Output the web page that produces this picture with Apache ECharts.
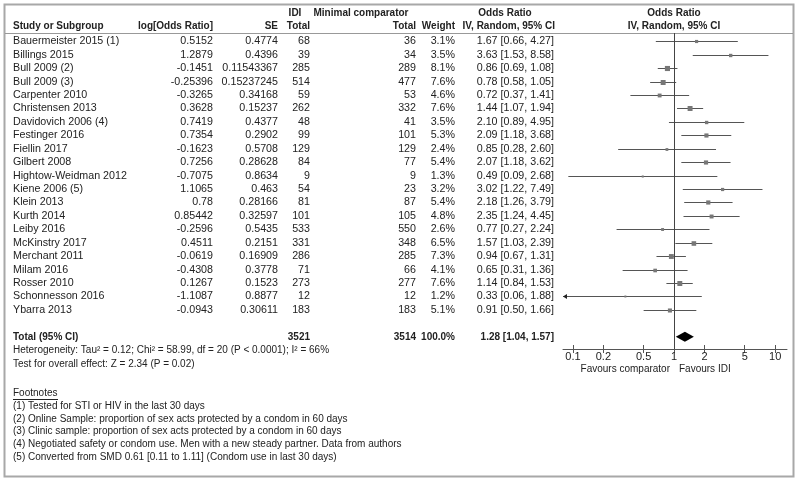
<!DOCTYPE html>
<html><head><meta charset="utf-8">
<script src="https://cdn.jsdelivr.net/npm/echarts@6/dist/echarts.min.js"></script>
<style>html,body{margin:0;padding:0;background:#fff;}#c{width:800px;height:481px;}</style>
</head><body><div id="c"></div>
<script>
const studies = ["Bauermeister 2015 (1)","Billings 2015","Bull 2009 (2)","Bull 2009 (3)","Carpenter 2010","Christensen 2013","Davidovich 2006 (4)","Festinger 2016","Fiellin 2017","Gilbert 2008","Hightow-Weidman 2012","Kiene 2006 (5)","Klein 2013","Kurth 2014","Leiby 2016","McKinstry 2017","Merchant 2011","Milam 2016","Rosser 2010","Schonnesson 2016","Ybarra 2013"];
const logOR = ["0.5152","1.2879","-0.1451","-0.25396","-0.3265","0.3628","0.7419","0.7354","-0.1623","0.7256","-0.7075","1.1065","0.78","0.85442","-0.2596","0.4511","-0.0619","-0.4308","0.1267","-1.1087","-0.0943"];
const seVals = ["0.4774","0.4396","0.11543367","0.15237245","0.34168","0.15237","0.4377","0.2902","0.5708","0.28628","0.8634","0.463","0.28166","0.32597","0.5435","0.2151","0.16909","0.3778","0.1523","0.8877","0.30611"];
const idiTotal = [68,39,285,514,59,262,48,99,129,84,9,54,81,101,533,331,286,71,273,12,183];
const compTotal = [36,34,289,477,53,332,41,101,129,77,9,23,87,105,550,348,285,66,277,12,183];
const weights = [3.1,3.5,8.1,7.6,4.6,7.6,3.5,5.3,2.4,5.4,1.3,3.2,5.4,4.8,2.6,6.5,7.3,4.1,7.6,1.2,5.1];
const orVals = [1.67,3.63,0.86,0.78,0.72,1.44,2.10,2.09,0.85,2.07,0.49,3.02,2.18,2.35,0.77,1.57,0.94,0.65,1.14,0.33,0.91];
const ciLow  = [0.66,1.53,0.69,0.58,0.37,1.07,0.89,1.18,0.28,1.18,0.09,1.22,1.26,1.24,0.27,1.03,0.67,0.31,0.84,0.06,0.50];
const ciHigh = [4.27,8.58,1.08,1.05,1.41,1.94,4.95,3.68,2.60,3.62,2.68,7.49,3.79,4.45,2.24,2.39,1.31,1.36,1.53,1.88,1.66];
const totalRow = {label:"Total (95% CI)", idi:3521, comp:3514, weight:"100.0%", or:1.28, lo:1.04, hi:1.57};
const tickValues = [0.1,0.2,0.5,1,2,5,10];
const footnotes = ["(1) Tested for STI or HIV in the last 30 days","(2) Online Sample: proportion of sex acts protected by a condom in 60 days","(3) Clinic sample: proportion of sex acts protected by a condom in 60 days","(4) Negotiated safety or condom use. Men with a new steady partner. Data from authors","(5) Converted from SMD 0.61 [0.11 to 1.11] (Condom use in last 30 days)"];
const hetText = "Heterogeneity: Tau\u00b2 = 0.12; Chi\u00b2 = 58.99, df = 20 (P < 0.0001); I\u00b2 = 66%";
const effText = "Test for overall effect: Z = 2.34 (P = 0.02)";

const FAM = "'Liberation Sans', Arial, sans-serif";
const FONT = "10.7px " + FAM;
const SFONT = "10px " + FAM;
const BFONT = "bold 10px " + FAM;
const TXT = '#222';
const LINE = '#555';
const TOTAL_IDX = 22;

const chart = echarts.init(document.getElementById('c'), null, {renderer:'canvas'});
const L10 = Math.log10;
const studyData = studies.map((s,i)=>[i, L10(orVals[i]), L10(ciLow[i]), L10(ciHigh[i]), weights[i]]);
const totalData = [[TOTAL_IDX, L10(totalRow.or), L10(totalRow.lo), L10(totalRow.hi)]];

const xMin = -1.0985, xMax = 1.117;
const option = {
  animation:false,
  backgroundColor:'#fff',
  grid:{left:563, width:224, top:33, height:316},
  xAxis:[{
    type:'value', min:xMin, max:xMax, position:'bottom',
    splitLine:{show:false},
    axisLine:{show:true, onZero:false, lineStyle:{color:LINE, width:1}},
    axisTick:{show:true, length:4, inside:false, customValues: tickValues.map(L10), lineStyle:{color:LINE}},
    axisLabel:{show:true, margin:2, customValues: tickValues.map(L10), color:TXT, fontSize:11, fontFamily:FAM,
      formatter:v=>{const t=tickValues.find(t=>Math.abs(L10(t)-v)<1e-6); return t===undefined?'':String(t);}}
  },{
    type:'value', min:xMin, max:xMax, position:'bottom', gridIndex:0,
    splitLine:{show:false},
    axisLine:{show:false, onZero:false},
    axisTick:{show:true, length:4, inside:true, customValues: tickValues.map(L10), lineStyle:{color:LINE}},
    axisLabel:{show:false}
  }],
  yAxis:{type:'value', inverse:true, min:-0.62, max:22.91, show:false},
  series:[{
    type:'custom', xAxisIndex:0,
    data: studyData,
    encode:{x:[1,2,3], y:0},
    renderItem:(params, api)=>{
      const cs = params.coordSys;
      const c = api.coord([api.value(1), api.value(0)]);
      let lx = api.coord([api.value(2), api.value(0)])[0];
      let hx = api.coord([api.value(3), api.value(0)])[0];
      const y = Math.round(c[1])+0.5;
      const children = [];
      let arrowL = false, arrowR = false;
      if (lx < cs.x) { lx = cs.x; arrowL = true; }
      if (hx > cs.x+cs.width) { hx = cs.x+cs.width; arrowR = true; }
      children.push({type:'line', shape:{x1:lx, y1:y, x2:hx, y2:y}, style:{stroke:LINE, lineWidth:1}});
      if (arrowL) children.push({type:'polygon', shape:{points:[[lx,y],[lx+4,y-2.5],[lx+4,y+2.5]]}, style:{fill:'#222'}});
      if (arrowR) children.push({type:'polygon', shape:{points:[[hx,y],[hx-4,y-2.5],[hx-4,y+2.5]]}, style:{fill:'#222'}});
      const s = Math.sqrt(api.value(4))*1.8;
      children.push({type:'rect', shape:{x:c[0]-s/2, y:y-s/2, width:s, height:s}, style:{fill:'#777'}});
      return {type:'group', children};
    },
    markLine:{silent:true, symbol:'none', label:{show:false}, lineStyle:{color:'#444', width:1, type:'solid'},
      data:[{xAxis:0}]}
  },{
    type:'custom', xAxisIndex:0,
    data: totalData,
    encode:{x:[1,2,3], y:0},
    renderItem:(params, api)=>{
      const c = api.coord([api.value(1), api.value(0)]);
      const lx = api.coord([api.value(2), api.value(0)])[0];
      const hx = api.coord([api.value(3), api.value(0)])[0];
      const y = c[1];
      return {type:'polygon', shape:{points:[[lx,y],[c[0],y-5],[hx,y],[c[0],y+5]]}, style:{fill:'#000'}};
    }
  }]
};
chart.setOption(option);

function rowY(i){ return chart.convertToPixel({yAxisIndex:0}, i); }
function txt(text, x, y, align, font){
  return {type:'text', silent:true, style:{text:String(text), x:x, y:y, font:font||FONT, fill:TXT,
    align:align||'left', textAlign:align||'left', verticalAlign:'middle', textVerticalAlign:'middle'}};
}
const g = [];
g.push({type:'rect', shape:{x:4.5, y:4.5, width:789, height:472}, style:{fill:null, stroke:'#a8a8a8', lineWidth:2}, silent:true, z:-1});
g.push({type:'line', shape:{x1:5, y1:33.5, x2:793, y2:33.5}, style:{stroke:'#999', lineWidth:1}, silent:true});
const h1 = 13, h2 = 26;
g.push(txt('IDI', 295, h1, 'center', BFONT));
g.push(txt('Minimal comparator', 361, h1, 'center', BFONT));
g.push(txt('Odds Ratio', 505, h1, 'center', BFONT));
g.push(txt('Odds Ratio', 674, h1, 'center', BFONT));
g.push(txt('Study or Subgroup', 13, h2, 'left', BFONT));
g.push(txt('log[Odds Ratio]', 213, h2, 'right', BFONT));
g.push(txt('SE', 278, h2, 'right', BFONT));
g.push(txt('Total', 310, h2, 'right', BFONT));
g.push(txt('Total', 416, h2, 'right', BFONT));
g.push(txt('Weight', 455, h2, 'right', BFONT));
g.push(txt('IV, Random, 95% CI', 555, h2, 'right', BFONT));
g.push(txt('IV, Random, 95% CI', 674, h2, 'center', BFONT));
studies.forEach((s,i)=>{
  const y = rowY(i);
  g.push(txt(s, 13, y, 'left'));
  g.push(txt(logOR[i], 213, y, 'right'));
  g.push(txt(seVals[i], 278, y, 'right'));
  g.push(txt(idiTotal[i], 310, y, 'right'));
  g.push(txt(compTotal[i], 416, y, 'right'));
  g.push(txt(weights[i].toFixed(1)+'%', 455, y, 'right'));
  g.push(txt(orVals[i].toFixed(2)+' ['+ciLow[i].toFixed(2)+', '+ciHigh[i].toFixed(2)+']', 554, y, 'right'));
});
const ty = rowY(TOTAL_IDX);
g.push(txt(totalRow.label, 13, ty, 'left', BFONT));
g.push(txt(totalRow.idi, 310, ty, 'right', BFONT));
g.push(txt(totalRow.comp, 416, ty, 'right', BFONT));
g.push(txt(totalRow.weight, 455, ty, 'right', BFONT));
g.push(txt(totalRow.or.toFixed(2)+' ['+totalRow.lo.toFixed(2)+', '+totalRow.hi.toFixed(2)+']', 554, ty, 'right', BFONT));
g.push(txt(hetText, 13, 350, 'left', SFONT));
g.push(txt(effText, 13, 364, 'left', SFONT));
g.push(txt('Footnotes', 13, 393, 'left', SFONT));
g.push({type:'line', shape:{x1:13, y1:399.5, x2:58, y2:399.5}, style:{stroke:TXT, lineWidth:1}, silent:true});
footnotes.forEach((f,i)=>g.push(txt(f, 13, 406+i*12.8, 'left', SFONT)));
g.push(txt('Favours comparator', 670, 369, 'right', SFONT));
g.push(txt('Favours IDI', 679, 369, 'left', SFONT));
chart.setOption({graphic:{elements:g}});
</script></body></html>
